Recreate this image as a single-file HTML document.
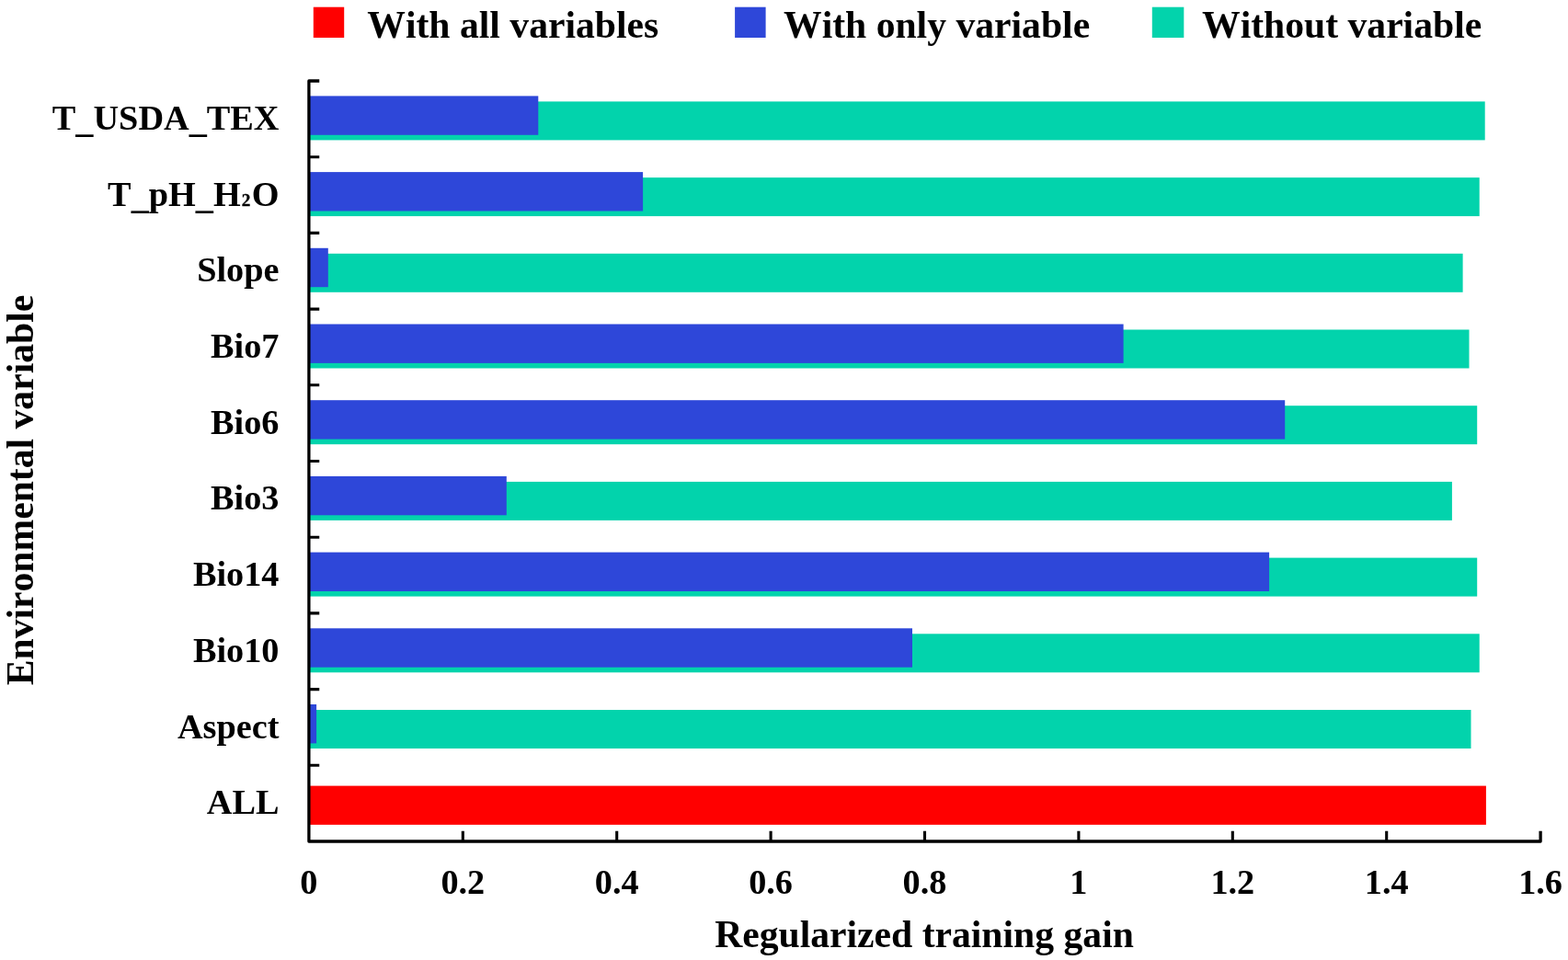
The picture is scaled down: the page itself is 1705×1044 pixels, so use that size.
<!DOCTYPE html>
<html lang="en">
<head>
<meta charset="utf-8">
<title>Jackknife of regularized training gain</title>
<style>
html,body{margin:0;padding:0;background:#fff;}
body{width:1705px;height:1044px;overflow:hidden;}
svg{display:block;}
text{font-family:"Liberation Serif","Times New Roman",Times,serif;font-weight:bold;fill:#000;font-kerning:none;font-variant-ligatures:none;}
.big{font-size:41.65px;}
.lab{font-size:38.27px;text-anchor:end;}
.tick{font-size:38.27px;text-anchor:middle;}
</style>
</head>
<body>
<svg width="1705" height="1044" viewBox="0 0 1705 1044">
<rect x="0" y="0" width="1705" height="1044" fill="#ffffff"/>
<g id="legend">
<rect x="340.8" y="7.7" width="33.4" height="33.3" fill="#FF0000"/>
<text class="big" x="399.3" y="41.2">With all variables</text>
<rect x="799.1" y="7.7" width="33.5" height="33.3" fill="#2E47D9"/>
<text class="big" x="852.0" y="41.2">With only variable</text>
<rect x="1252.8" y="7.7" width="34.5" height="33.3" fill="#02D3AC"/>
<text class="big" x="1307.0" y="41.2">Without variable</text>
</g>
<g id="bars">
<rect x="335.9" y="110.40" width="1278.8" height="42" fill="#02D3AC"/>
<rect x="335.9" y="104.40" width="249.4" height="42.4" fill="#2E47D9"/>
<rect x="335.9" y="193.10" width="1272.8" height="42" fill="#02D3AC"/>
<rect x="335.9" y="187.10" width="363.2" height="42.4" fill="#2E47D9"/>
<rect x="335.9" y="275.80" width="1254.7" height="42" fill="#02D3AC"/>
<rect x="335.9" y="269.80" width="20.9" height="42.4" fill="#2E47D9"/>
<rect x="335.9" y="358.50" width="1261.6" height="42" fill="#02D3AC"/>
<rect x="335.9" y="352.50" width="885.7" height="42.4" fill="#2E47D9"/>
<rect x="335.9" y="441.20" width="1270.3" height="42" fill="#02D3AC"/>
<rect x="335.9" y="435.20" width="1061.3" height="42.4" fill="#2E47D9"/>
<rect x="335.9" y="523.90" width="1243.0" height="42" fill="#02D3AC"/>
<rect x="335.9" y="517.90" width="214.9" height="42.4" fill="#2E47D9"/>
<rect x="335.9" y="606.60" width="1270.3" height="42" fill="#02D3AC"/>
<rect x="335.9" y="600.60" width="1044.2" height="42.4" fill="#2E47D9"/>
<rect x="335.9" y="689.30" width="1272.8" height="42" fill="#02D3AC"/>
<rect x="335.9" y="683.30" width="656.1" height="42.4" fill="#2E47D9"/>
<rect x="335.9" y="772.00" width="1263.6" height="42" fill="#02D3AC"/>
<rect x="335.9" y="766.00" width="8.2" height="42.4" fill="#2E47D9"/>
<rect x="335.9" y="854.6" width="1280.0" height="42.3" fill="#FF0000"/>
</g>
<g id="axes" fill="none" stroke="#000" stroke-linejoin="round" stroke-linecap="butt">
<path stroke-width="3.30" d="M347.25 88.00H335.90V915.00H1675.10V903.65"/>
<path stroke-width="3.10" d="M335.90 170.70h11.35M335.90 253.40h11.35M335.90 336.10h11.35M335.90 418.80h11.35M335.90 501.50h11.35M335.90 584.20h11.35M335.90 666.90h11.35M335.90 749.60h11.35M335.90 832.30h11.35M503.30 915.00v-11.35M670.70 915.00v-11.35M838.10 915.00v-11.35M1005.50 915.00v-11.35M1172.90 915.00v-11.35M1340.30 915.00v-11.35M1507.70 915.00v-11.35"/>
</g>
<g id="ylabels">
<text class="lab" x="303.5" y="140.9">T<tspan dy="3">_</tspan><tspan dy="-3">USDA</tspan><tspan dy="3">_</tspan><tspan dy="-3">TEX</tspan></text>
<text class="lab" x="303.5" y="223.6">T<tspan dy="3">_</tspan><tspan dy="-3">pH</tspan><tspan dy="3">_</tspan><tspan dy="-3">H</tspan><tspan font-size="19.2" dx="1.1" stroke="#000" stroke-width="0.35">2</tspan><tspan dx="1.3">O</tspan></text>
<text class="lab" x="303.5" y="306.3">Slope</text>
<text class="lab" x="303.5" y="389.0">Bio7</text>
<text class="lab" x="303.5" y="471.7">Bio6</text>
<text class="lab" x="303.5" y="554.4">Bio3</text>
<text class="lab" x="303.5" y="637.1">Bio14</text>
<text class="lab" x="303.5" y="719.8">Bio10</text>
<text class="lab" x="303.5" y="802.5">Aspect</text>
<text class="lab" x="303.5" y="885.2">ALL</text>
</g>
<g id="xticks">
<text class="tick" x="335.9" y="972">0</text>
<text class="tick" x="503.3" y="972">0.2</text>
<text class="tick" x="670.7" y="972">0.4</text>
<text class="tick" x="838.1" y="972">0.6</text>
<text class="tick" x="1005.5" y="972">0.8</text>
<text class="tick" x="1172.9" y="972">1</text>
<text class="tick" x="1340.3" y="972">1.2</text>
<text class="tick" x="1507.7" y="972">1.4</text>
<text class="tick" x="1675.1" y="972">1.6</text>
</g>
<text class="big" text-anchor="middle" x="1005.0" y="1030.0">Regularized training gain</text>
<text class="big" text-anchor="middle" transform="translate(35.8 533) rotate(-90)">Environmental variable</text>
</svg>
</body>
</html>
